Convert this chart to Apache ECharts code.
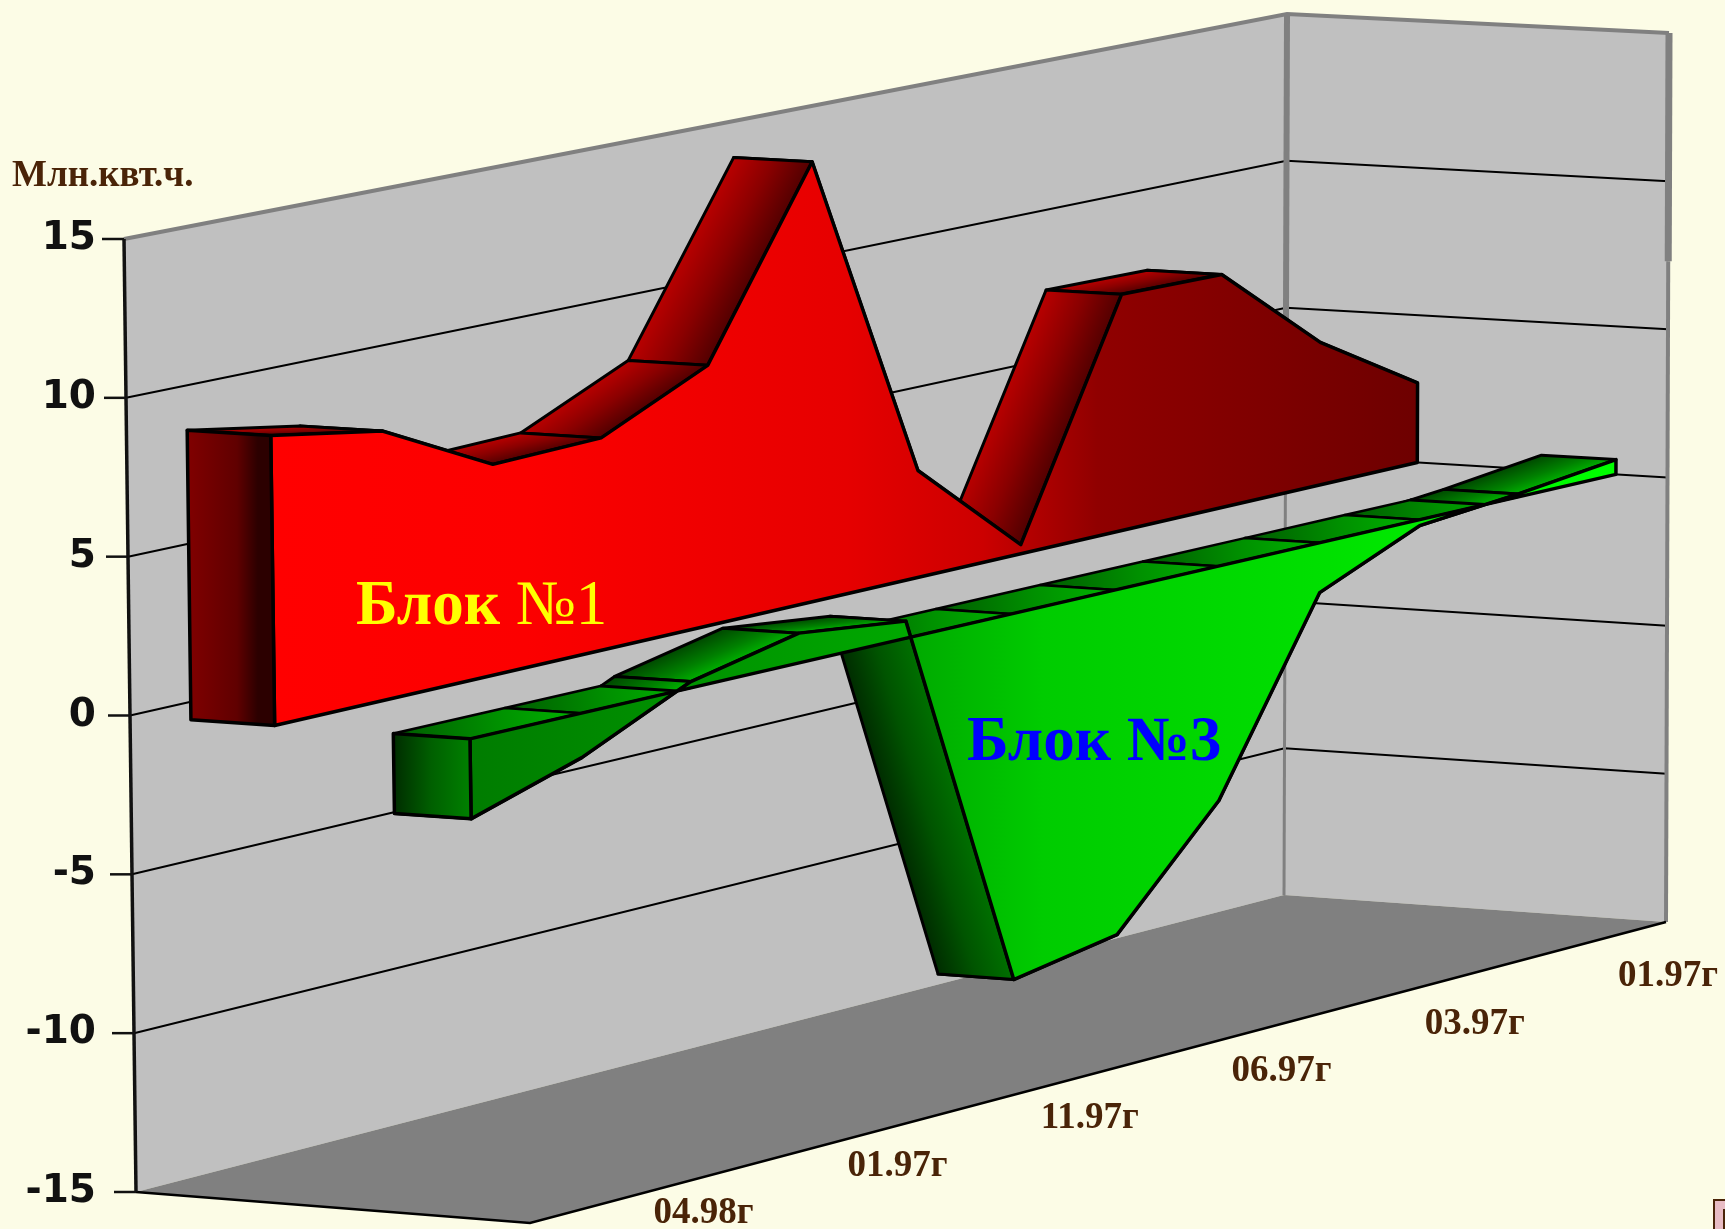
<!DOCTYPE html>
<html>
<head>
<meta charset="utf-8">
<style>html,body{margin:0;padding:0;background:#fcfce6}#chart{width:1725px;height:1229px}</style>
<script src="https://cdn.jsdelivr.net/npm/echarts@6/dist/echarts.min.js"></script>
</head>
<body>
<div id="chart"></div>
<script>
// Monthly generation deviation per unit, million kWh
const monthIndex = [0, 1, 2, 3, 4, 5, 6, 7, 8, 9, 10, 11];
const block1Values = [9.1, 8.5, 6.7, 6.8, 8.4, 14.3, 3.5, 0.3, 7.85, 7.8, 4.8, 2.7];
const block3Values = [-2.5, -1.4, 0.2, 0.95, 0.55, -11.85, -11.25, -7.7, -1.65, -0.2, 0.1, 0.5];
const dateLabels = ['04.98г', '01.97г', '11.97г', '06.97г', '03.97г', '01.97г'];
const dateLabelMonth = [1.59, 3.39, 5.22, 7.09, 9.02, 11];
const valueTicks = [-15, -10, -5, 0, 5, 10, 15];

// Flat plot rectangle of the hidden cartesian system
const GRID = { left: 130, top: 239, width: 1155, height: 953 };
// Corners of the box on screen: [rear wall start, rear wall end, side wall end, floor front]
const BOX_TOP = [[124, 239], [1287, 14], [1669, 33], [516, 262]];
const BOX_BOTTOM = [[136, 1192], [1284, 895], [1666, 922], [530, 1223]];
const FORESHORTEN = 0.075;

// Rear and front depth of each ribbon, at its first and last month
const DEPTH = {
  block1: { back: [0.155, 0.155], front: [0.368, 0.345] },
  block3: { back: [0.67, 0.67], front: [0.865, 0.865] }
};
const INK = '#000000';
const EDGE = '#808080';
const BROWN = '#4a2408';

const lg = (x0, y0, x1, y1, stops) =>
  new echarts.graphic.LinearGradient(x0, y0, x1, y1,
    stops.map(s => ({ offset: s[0], color: s[1] })), true);

function mix(a, b, k) { return a + (b - a) * k; }

// Trilinear box mapping with a little foreshortening along the month direction
function place(t, w, d) {
  const tp = t * (1 + FORESHORTEN) / (1 + FORESHORTEN * t);
  const at = (c) => [
    mix(mix(c[0][0], c[1][0], tp), mix(c[3][0], c[2][0], tp), d),
    mix(mix(c[0][1], c[1][1], tp), mix(c[3][1], c[2][1], tp), d)
  ];
  const a = at(BOX_TOP), b = at(BOX_BOTTOM);
  return [mix(a[0], b[0], w), mix(a[1], b[1], w)];
}

// Data value -> library axis pixel -> position in the box
function toScreen(api, month, value, d) {
  const p = api.coord([month, value]);
  return place((p[0] - GRID.left) / GRID.width, (p[1] - GRID.top) / GRID.height, d);
}

function poly(points, fill, stroke, lineWidth) {
  return {
    type: 'polygon',
    shape: { points },
    style: { fill, stroke: stroke || null, lineWidth: lineWidth || 0, lineJoin: 'round' }
  };
}
function line(points, stroke, lineWidth) {
  return {
    type: 'polyline',
    shape: { points },
    style: { fill: null, stroke, lineWidth }
  };
}

function renderBox(params, api) {
  const [vMin, vMax] = [valueTicks[0], valueTicks[valueTicks.length - 1]];
  const [mMin, mMax] = [monthIndex[0], monthIndex[monthIndex.length - 1]];
  const P = (m, v, d) => toScreen(api, m, v, d);
  const kids = [];
  kids.push(poly([P(mMin, vMax, 0), P(mMax, vMax, 0), P(mMax, vMin, 0), P(mMin, vMin, 0)], '#c0c0c0'));
  kids.push(poly([P(mMax, vMax, 0), P(mMax, vMax, 1), P(mMax, vMin, 1), P(mMax, vMin, 0)], '#c0c0c0'));
  kids.push(poly([P(mMin, vMin, 0), P(mMax, vMin, 0), P(mMax, vMin, 1), P(mMin, vMin, 1)], '#808080'));
  valueTicks.slice(1, -1).forEach(v => {
    kids.push(line([P(mMin, v, 0), P(mMax, v, 0), P(mMax, v, 1)], '#000', 2));
  });
  // Upper rim and wall seams
  kids.push(line([P(mMin, vMax, 0), P(mMax, vMax, 0), P(mMax, vMax, 1)], EDGE, 4));
  kids.push(line([P(mMax, vMax, 0), P(mMax, 3, 0)], EDGE, 6));
  kids.push(line([P(mMax, 3, 0), P(mMax, vMin, 0)], EDGE, 3));
  kids.push(line([P(mMax, vMax, 1), P(mMax, 7.3, 1)], EDGE, 7));
  kids.push(line([P(mMax, 7.3, 1), P(mMax, vMin, 1)], EDGE, 4));
  // Floor edges and the value axis with its ticks
  kids.push(line([P(mMin, vMin, 0), P(mMin, vMin, 1), P(mMax, vMin, 1)], '#000', 2.5));
  kids.push(line([P(mMin, vMax, 0), P(mMin, vMin, 0)], '#111', 3.5));
  valueTicks.forEach(v => {
    const q = P(mMin, v, 0);
    kids.push(line([[q[0] - 22, q[1]], q], '#111', 2.5));
  });
  return { type: 'group', children: kids };
}

// Draws one extruded ribbon: sloped faces, zero-level strip, front face, end cap
function renderBlock(values, depth, paint) {
  const first = monthIndex[0], last = monthIndex[monthIndex.length - 1];
  const backAt = m => mix(depth.back[0], depth.back[1], (m - first) / (last - first));
  const frontAt = m => mix(depth.front[0], depth.front[1], (m - first) / (last - first));
  return function (params, api) {
    if (params.dataIndex !== 0) return { type: 'group', children: [] };
    const B = (m, v) => toScreen(api, m, v, backAt(m));
    const F = (m, v) => toScreen(api, m, v, frontAt(m));
    const below = [], strips = [], above = [];

    const face = (ma, va, mb, vb, list, stops) => {
      const a = B(ma, va), b = B(mb, vb), c = F(mb, vb), e = F(ma, va);
      // Shade across the face, from its rear edge to its front edge
      const ex = b[0] - a[0], ey = b[1] - a[1], len = Math.hypot(ex, ey) || 1;
      const nx = -ey / len, ny = ex / len;
      const dist = (e[0] - a[0]) * nx + (e[1] - a[1]) * ny;
      const x1 = a[0] + nx * dist, y1 = a[1] + ny * dist;
      list.push(poly([a, b, c, e], lg(a[0], a[1], x1, y1, stops), INK, 3));
    };

    for (let i = monthIndex.length - 2; i >= 0; i--) {
      const ma = monthIndex[i], mb = monthIndex[i + 1];
      const va = values[i], vb = values[i + 1];
      if (va * vb < 0) {
        const mz = ma + (mb - ma) * va / (va - vb);
        if (va < 0) face(ma, va, mz, 0, below, paint.faceBelow); else face(ma, va, mz, 0, above, paint.face);
        if (vb < 0) face(mz, 0, mb, vb, below, paint.faceBelow); else face(mz, 0, mb, vb, above, paint.face);
      } else if (va < 0 || vb < 0) {
        face(ma, va, mb, vb, below, paint.faceBelow);
      } else {
        face(ma, va, mb, vb, above, paint.face);
      }
      if (Math.min(va, vb) < 0) {
        const a = B(ma, 0), b = B(mb, 0), c = F(mb, 0), e = F(ma, 0);
        strips.push(poly([a, b, c, e], lg(a[0], a[1], c[0], c[1], paint.strip), INK, 2.5));
      }
    }

    const outline = [F(first, 0)]
      .concat(monthIndex.map((m, i) => F(m, values[i])))
      .concat([F(last, 0)]);
    const x0 = F(first, 0)[0], x1 = F(last, 0)[0];
    const frontFace = poly(outline, lg(x0, 0, x1, 0, paint.front), INK, 3.5);

    const c0 = B(first, 0), c1 = B(first, values[0]);
    const c2 = F(first, values[0]), c3 = F(first, 0);
    const cap = poly([c0, c1, c2, c3], lg(c0[0], 0, c3[0], 0, paint.cap), INK, 3.5);

    return { type: 'group', children: [...below, ...strips, ...above, frontFace, cap] };
  };
}

const redPaint = {
  front: [[0, '#ff0000'], [0.22, '#fc0000'], [0.5, '#e60000'], [0.62, '#cc0000'], [0.72, '#900000'], [1, '#6e0000']],
  face: [[0, '#b80000'], [0.5, '#8a0000'], [1, '#520000']],
  faceBelow: [[0, '#520000'], [1, '#b80000']],
  cap: [[0, '#7e0000'], [0.55, '#600000'], [0.8, '#2c0000'], [1, '#2c0000']],
  strip: [[0, '#900000'], [1, '#b00000']]
};
const greenPaint = {
  front: [[0, '#007c00'], [0.38, '#00a800'], [0.5, '#00cc00'], [0.75, '#00e000'], [1, '#00ff00']],
  face: [[0, '#004800'], [0.6, '#008000'], [1, '#00b000']],
  faceBelow: [[0, '#002c00'], [0.5, '#005400'], [1, '#007000']],
  cap: [[0, '#002c00'], [0.5, '#006000'], [1, '#008000']],
  strip: [[0, '#005a00'], [0.55, '#009000'], [1, '#00b400']]
};

function renderDateLabels(params, api) {
  const steps = dateLabels.length - 1;
  return {
    type: 'group',
    children: dateLabels.map((text, i) => {
      const q = toScreen(api, dateLabelMonth[i], valueTicks[0], 1);
      return {
        type: 'text',
        style: {
          text,
          x: q[0] + 2 - (steps - i) * 0.6,
          y: q[1] + 73 - (steps - i) * 3.5,
          align: 'center', verticalAlign: 'bottom',
          fill: BROWN, font: 'bold 37px "Liberation Serif"'
        }
      };
    })
  };
}

const chart = echarts.init(document.getElementById('chart'), null, { renderer: 'canvas' });
chart.setOption({
  animation: false,
  backgroundColor: '#fcfce6',
  grid: GRID,
  xAxis: { type: 'value', min: monthIndex[0], max: monthIndex[monthIndex.length - 1], show: false },
  yAxis: {
    type: 'value', min: valueTicks[0], max: valueTicks[valueTicks.length - 1], interval: 5,
    axisLine: { show: false }, axisTick: { show: false }, splitLine: { show: false },
    axisLabel: {
      margin: 34, color: '#111', fontFamily: 'DejaVu Sans', fontWeight: 'bold', fontSize: 39
    }
  },
  series: [
    { type: 'custom', data: [[0, 0]], renderItem: renderBox, silent: true, z: 1 },
    { type: 'custom', name: 'Блок №1', data: monthIndex.map((m, i) => [m, block1Values[i]]),
      renderItem: renderBlock(block1Values, DEPTH.block1, redPaint), silent: true, z: 2 },
    { type: 'custom', name: 'Блок №3', data: monthIndex.map((m, i) => [m, block3Values[i]]),
      renderItem: renderBlock(block3Values, DEPTH.block3, greenPaint), silent: true, z: 3 },
    { type: 'custom', data: [[0, 0]], renderItem: renderDateLabels, silent: true, z: 4 }
  ],
  graphic: [
    { type: 'text', z: 10, left: 12, top: 158,
      style: { text: 'Млн.квт.ч.', fill: BROWN, font: 'bold 37px "Liberation Serif"' } },
    { type: 'text', z: 10, left: 356, top: 576,
      style: {
        text: '{b|Блок }{r|№1}', fill: '#ffff00',
        rich: {
          b: { fill: '#ffff00', font: 'bold 63px "Liberation Serif"' },
          r: { fill: '#ffff00', font: '63px "Liberation Serif"' }
        }
      } },
    { type: 'text', z: 10, left: 967, top: 712,
      style: { text: 'Блок №3', fill: '#0000ff', font: 'bold 63px "Liberation Serif"' } },
    { type: 'rect', z: 10, shape: { x: 1714, y: 1200, width: 20, height: 40 },
      style: { fill: '#e8bcc4', stroke: BROWN, lineWidth: 2 } },
    { type: 'rect', z: 11, shape: { x: 1723, y: 1209, width: 10, height: 30 },
      style: { fill: BROWN } }
  ]
});
</script>
</body>
</html>
